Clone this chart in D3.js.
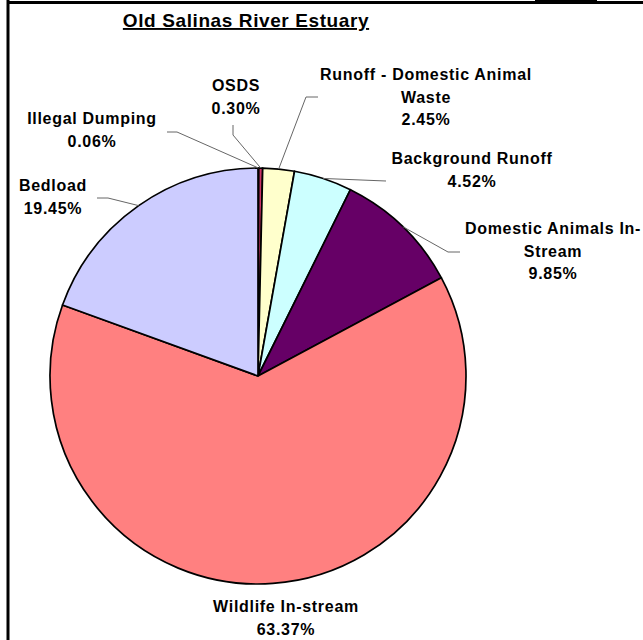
<!DOCTYPE html>
<html><head><meta charset="utf-8">
<script src="https://cdn.jsdelivr.net/npm/d3@7"></script>
<style>body{margin:0;background:#fff;}svg{display:block;}</style>
</head><body>
<script>
// Data
const categories = ["Illegal Dumping","OSDS","Runoff - Domestic Animal Waste","Background Runoff","Domestic Animals In-Stream","Wildlife In-stream","Bedload"];
const values = [0.06, 0.30, 2.45, 4.52, 9.85, 63.37, 19.45];
const valueLabels = ["0.06%","0.30%","2.45%","4.52%","9.85%","63.37%","19.45%"];
const labelLines = [["Illegal Dumping"],["OSDS"],["Runoff - Domestic Animal","Waste"],["Background Runoff"],["Domestic Animals In-","Stream"],["Wildlife In-stream"],["Bedload"]];
const colors = ["#333399","#CC3366","#FFFFCC","#CCFFFF","#660066","#FF8080","#CCCCFF"];

// Layout (label anchor positions and leader bends)
const labelPos = [
  {x:92, y:124, leader:[[177,132],[167,132]]},
  {x:236, y:91, leader:[[233,135],[233,125]]},
  {x:426, y:80, leader:[[306,97],[318,97]]},
  {x:472, y:164, leader:[[386,181]]},
  {x:553, y:234, leader:[[448,252],[460,252]]},
  {x:286, y:612, leader:null},
  {x:53, y:191, leader:[[108,198],[97,198]]}
];

const W = 643, H = 640;
const cx = 258, cy = 376, R = 208;
const svg = d3.select("body").append("svg").attr("width", W).attr("height", H);

// frame
svg.append("line").attr("x1",8).attr("y1",0).attr("x2",8).attr("y2",H).attr("stroke","#000").attr("stroke-width",3);
svg.append("line").attr("x1",8).attr("y1",2.5).attr("x2",W).attr("y2",2.5).attr("stroke","#000").attr("stroke-width",3);
svg.append("line").attr("x1",535).attr("y1",0.5).attr("x2",597).attr("y2",0.5).attr("stroke","#000").attr("stroke-width",1);

const font = "'Liberation Sans', Arial, sans-serif";
svg.append("text").attr("x",246).attr("y",27).attr("text-anchor","middle")
  .attr("font-family",font).attr("font-weight","bold").attr("font-size",19)
  .attr("letter-spacing",0.6)
  .attr("text-decoration","underline").text("Old Salinas River Estuary");

const pie = d3.pie().sort(null).value(d => d)(values);
const arc = d3.arc().innerRadius(0).outerRadius(R);
const g = svg.append("g").attr("transform",`translate(${cx},${cy})`);
g.selectAll("path").data(pie).join("path")
  .attr("d", arc).attr("fill",(d,i)=>colors[i])
  .attr("stroke","#000").attr("stroke-width",1.7).attr("stroke-linejoin","round");

// leader lines
pie.forEach((d,i) => {
  const lp = labelPos[i];
  if (!lp.leader) return;
  const a = (d.startAngle + d.endAngle)/2;
  const p0 = [cx + R*Math.sin(a), cy - R*Math.cos(a)];
  const pts = [p0].concat(lp.leader);
  svg.append("path").attr("d", d3.line()(pts)).attr("fill","none").attr("stroke","#666").attr("stroke-width",1);
});

// labels
pie.forEach((d,i) => {
  const lp = labelPos[i];
  const lines = labelLines[i].concat([valueLabels[i]]);
  const t = svg.append("text").attr("text-anchor","middle")
    .attr("font-family",font).attr("font-weight","bold").attr("font-size",16)
    .attr("letter-spacing",0.7);
  lines.forEach((ln,j) => {
    t.append("tspan").attr("x",lp.x).attr("y",lp.y + j*22.5).text(ln);
  });
});
</script>
</body></html>
